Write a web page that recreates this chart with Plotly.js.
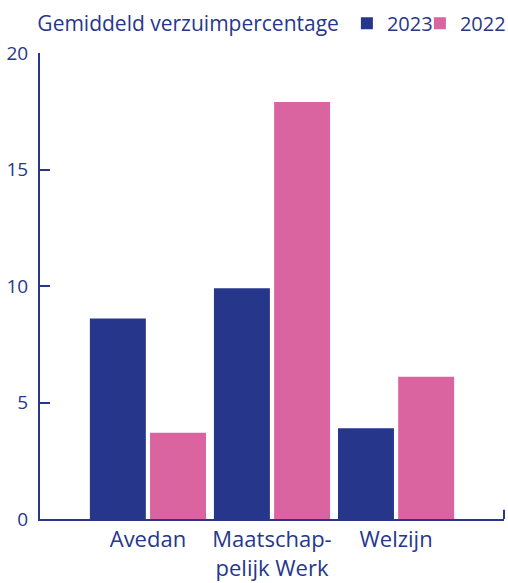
<!DOCTYPE html>
<html>
<head>
<meta charset="utf-8">
<script src="https://cdn.plot.ly/plotly-3.0.1.min.js"></script>
<style>html,body{margin:0;padding:0;background:#fff;}#chart{width:508px;height:583px;}</style>
</head>
<body>
<div id="chart"></div>
<script>
var categories = ["Avedan", "Maatschap-<br>pelijk Werk", "Welzijn"];
var values2023 = [8.6, 9.9, 3.9];
var values2022 = [3.7, 17.9, 6.1];
var yTicks = [0, 5, 10, 15, 20];
var legendTitle = "Gemiddeld verzuimpercentage";

var textColor = "#27378B";
var fontFam = "Open Sans, sans-serif";
var blue = "#26368B";
var pink = "#D9649F";

var data = [
  {type: "bar", name: "2023", x: categories, y: values2023, marker: {color: blue}, legendwidth: 28, hoverinfo: "y"},
  {type: "bar", name: "2022", x: categories, y: values2022, marker: {color: pink}, legendwidth: 46, hoverinfo: "y"}
];

var layout = {
  width: 508, height: 583,
  margin: {l: 40, r: 4, t: 53, b: 64, autoexpand: false},
  paper_bgcolor: "#fff", plot_bgcolor: "#fff",
  font: {family: fontFam, size: 19, color: textColor},
  barmode: "group",
  bargap: 0.03,
  bargroupgap: 0.07,
  showlegend: true,
  legend: {
    orientation: "h", x: -0.01, xanchor: "left", y: 1.022, yanchor: "bottom",
    title: {text: legendTitle, side: "left", font: {size: 21, color: textColor}},
    font: {size: 20, color: textColor},
    itemwidth: 30, tracegroupgap: 0,
    bgcolor: "rgba(0,0,0,0)"
  },
  xaxis: {
    range: [-0.87, 2.87],
    showline: true, linecolor: textColor, linewidth: 2,
    ticks: "", showgrid: false, zeroline: false,
    tickfont: {size: 22, color: textColor},
    fixedrange: true
  },
  yaxis: {
    range: [0, 20],
    tickvals: yTicks,
    showline: true, linecolor: textColor, linewidth: 2,
    ticks: "inside", ticklen: 10, tickwidth: 2, tickcolor: textColor,
    showgrid: false, zeroline: false,
    tickfont: {size: 19, color: textColor},
    ticklabelstandoff: 6,
    fixedrange: true
  },
  shapes: [
    {type: "line", xref: "paper", yref: "paper", x0: 1, x1: 1, y0: 0, y1: 0.02, line: {color: textColor, width: 2}}
  ]
};

Plotly.newPlot("chart", data, layout, {displayModeBar: false, staticPlot: true});
</script>
</body>
</html>
